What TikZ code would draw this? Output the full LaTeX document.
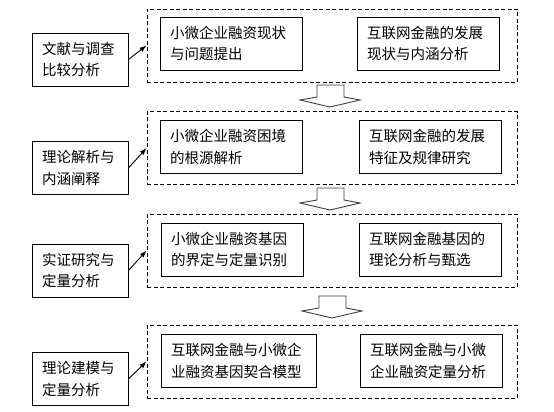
\documentclass[tikz,border=0pt]{standalone}
\usepackage{fontspec}
\newfontfamily\cjk{Noto Sans CJK SC}
\usetikzlibrary{arrows.meta}
\begin{document}
\begin{tikzpicture}[x=1pt,y=-1pt,
  box/.style={draw, line width=0.9pt, align=left, inner xsep=10pt, inner ysep=0pt,
    font=\cjk\fontsize{14.5}{21.5}\selectfont},
  lbox/.style={box, text width=76pt, minimum height=53pt},
  ibox/.style={box, minimum height=53pt},
  group/.style={draw, line width=0.9pt, dash pattern=on 4pt off 2.5pt, minimum width=370pt, minimum height=73pt, inner sep=0pt},
  link/.style={line width=0.9pt, -{Latex[length=7pt,width=5pt]}},
  blockarrow/.style={draw=black!75, fill=white, line width=0.9pt, line join=miter}
]
\useasboundingbox (0,0) rectangle (554,412);
% dashed groups
\node[group] (g1) at (332,45.5) {};
\node[group] (g2) at (332,148) {};
\node[group] (g3) at (332,250.5) {};
\node[group] (g4) at (332,361.5) {};
% left boxes
\node[lbox] (l1) at (80,59.5) {文献与调查\\比较分析};
\node[lbox] (l2) at (80,168) {理论解析与\\内涵阐释};
\node[lbox] (l3) at (80,270.5) {实证研究与\\定量分析};
\node[lbox] (l4) at (80,379) {理论建模与\\定量分析};
% inner boxes
\node[ibox, text width=122pt] (a1) at (231,43.5) {小微企业融资现状\\与问题提出};
\node[ibox, text width=122pt] (b1) at (428,43.5) {互联网金融的发展\\现状与内涵分析};
\node[ibox, text width=122pt] (a2) at (231,147) {小微企业融资困境\\的根源解析};
\node[ibox, text width=122pt] (b2) at (430,147) {互联网金融的发展\\特征及规律研究};
\node[ibox, text width=122pt] (a3) at (232,249.5) {小微企业融资基因\\的界定与定量识别};
\node[ibox, text width=122pt] (b3) at (430,249.5) {互联网金融基因的\\理论分析与甄选};
\node[ibox, text width=135pt] (a4) at (238.5,361) {互联网金融与小微企\\业融资基因契合模型};
\node[ibox, text width=122pt] (b4) at (431,361) {互联网金融与小微\\企业融资定量分析};
% diagonal links
\draw[link] (l1.east) -- (g1.west);
\draw[link] (l2.east) -- (g2.west);
\draw[link] (l3.east) -- (g3.west);
\draw[link] (l4.east) -- (g4.west);
% block arrows
\draw[blockarrow] (317,85) -- (344,85) -- (344,97) -- (360,100) -- (330,107) -- (300,100) -- (317,97) -- cycle;
\draw[blockarrow] (317,188) -- (344,188) -- (344,200) -- (360,203) -- (330,210) -- (300,203) -- (317,200) -- cycle;
\draw[blockarrow] (319,296) -- (346,296) -- (346,308) -- (362,311) -- (332,318) -- (302,311) -- (319,308) -- cycle;
\end{tikzpicture}
\end{document}
